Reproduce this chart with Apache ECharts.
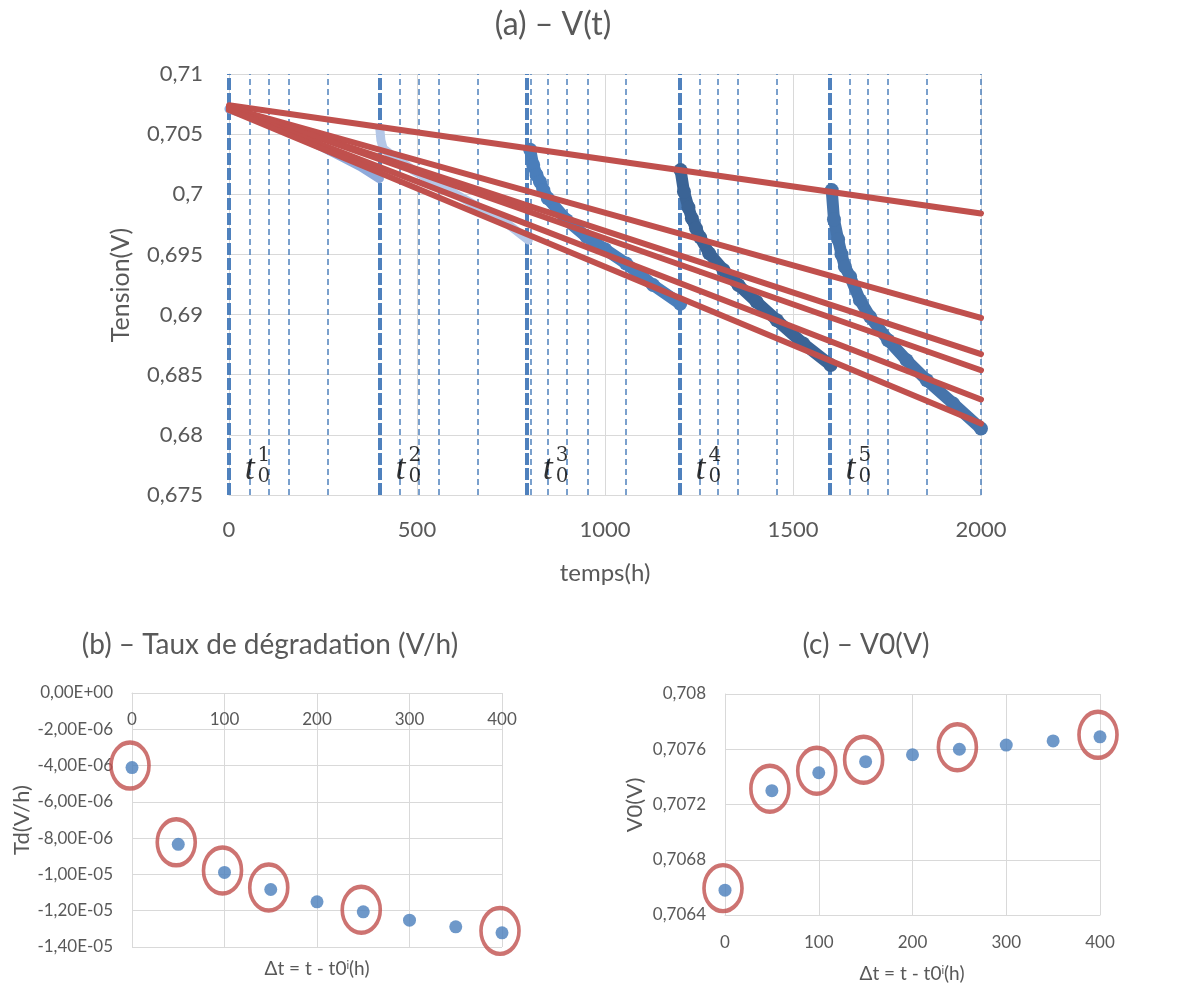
<!DOCTYPE html>
<html><head><meta charset="utf-8">
<script src="https://cdn.jsdelivr.net/npm/echarts@6/dist/echarts.min.js"></script>
<style>html,body{margin:0;padding:0;background:#fff}#c{width:1192px;height:985px}</style>
</head><body><div id="c"></div>
<script>
// ---------------- data ----------------
// (a) measured voltage, five segments [t (h), V]
const seg1 = [[0,0.7071],[50,0.7066],[100,0.7060],[150,0.7053],[200,0.7046],[250,0.7039],[300,0.7031],[350,0.7023],[400,0.7013]];
const seg2 = [[401,0.7055],[404,0.7045],[410,0.7038],[440,0.7031],[490,0.7020],[570,0.7006],[660,0.6990],[730,0.6978],[796,0.6962]];
const seg3 = [[801,0.7037],[809,0.70243],[818,0.7016],[827,0.70104],[836,0.70035],[848,0.69966],[898,0.69785],[951,0.69646],[1000,0.69544],[1056,0.69425],[1128,0.69245],[1200,0.6909]];
const seg4 = [[1201,0.70201],[1210,0.70021],[1222,0.6989],[1231,0.6980],[1242,0.69717],[1253,0.69642],[1277,0.69509],[1315,0.69371],[1355,0.69245],[1403,0.69106],[1457,0.68953],[1527,0.68759],[1600,0.6858]];
const seg5 = [[1603,0.70035],[1609,0.69791],[1620,0.69625],[1629,0.69502],[1638,0.69397],[1652,0.69314],[1678,0.6912],[1705,0.68981],[1753,0.68787],[1802,0.68621],[1856,0.68454],[1926,0.6826],[2000,0.68052]];
// (a) fitted lines: value at t = 0 and at t = 2000
const fitT = [0, 2000];
const fitStart = [0.7074, 0.7072, 0.7072, 0.7073, 0.7071, 0.7070];
const fitEnd   = [0.69841, 0.68973, 0.68671, 0.68537, 0.68294, 0.68094];
// (a) vertical dashed markers
const t0Thick = [0, 401, 793, 1199, 1598];
const dashThin = [55,106,159,262, 455,505,558,662, 803,849,898,953,1056, 1251,1301,1354,1457, 1650,1700,1753,1855,2000];
const t0Names = ['1','2','3','4','5'];
// (b) and (c)
const dtValues = [0,50,100,150,200,250,300,350,400];
const tdValues = [-4.11e-6,-8.34e-6,-9.89e-6,-1.083e-5,-1.151e-5,-1.206e-5,-1.252e-5,-1.289e-5,-1.322e-5];
const v0Values = [0.70658,0.70730,0.70743,0.70751,0.70756,0.70760,0.70763,0.70766,0.70769];
const circled = [0,50,100,150,250,400];

// ---------------- styling ----------------
const FONT = "Lato, 'Open Sans', sans-serif";
const TXT = '#595959';
const GRID = '#d9d9d9';
const RED = '#c0504d';
const DASH = '#4f81bd';
const DOT = '#4a7ebb';

function comma(v, d){ return String(+v.toFixed(d)).replace('.', ','); }
function sci(v){
  let s = (Math.abs(v) < 1e-12 ? 0 : v).toExponential(2);
  let parts = s.split('e');
  let sign = parts[1][0] === '-' ? '-' : '+';
  let d = parts[1].replace(/^[+-]/, '');
  if (d.length < 2) d = '0' + d;
  return parts[0].replace('.', ',') + 'E' + sign + d;
}
function axisCommon(){
  return {
    axisLine:{show:true, onZero:false, lineStyle:{color:GRID, width:1}},
    axisTick:{show:false},
    splitLine:{show:true, lineStyle:{color:GRID, width:1}},
  };
}

const chart = echarts.init(document.getElementById('c'), null, {renderer:'canvas'});

const series = [];
// dashed vertical lines (a)
series.push({
  type:'line', xAxisIndex:0, yAxisIndex:0, data:[], z:1, silent:true,
  markLine:{
    silent:true, symbol:['none','none'], label:{show:false}, animation:false, z:1,
    data: dashThin.map(x => ({xAxis:x, lineStyle:{type:[6,4], width:1.5, color:DASH}}))
      .concat(t0Thick.map(x => ({xAxis:x, lineStyle:{type:[12,3], width:4, color:DASH}})))
  }
});
// measured segments
const segStyles = [
  {d:seg1, c:'#8eaadb', w:9, sym:false},
  {d:seg2, c:'#b4c7e7', w:9, sym:false},
  {d:seg3, c:'#4a7ebb', w:12, sym:true},
  {d:seg4, c:'#3b6496', w:12, sym:true},
  {d:seg5, c:'#4674ab', w:12, sym:true},
];
segStyles.forEach(s => series.push({
  type:'line', xAxisIndex:0, yAxisIndex:0, data:s.d, z:2,
  showSymbol:s.sym, showAllSymbol:true, symbol:'circle', symbolSize:14,
  itemStyle:{color:s.c}, lineStyle:{color:s.c, width:s.w, cap:'round', join:'round'},
  silent:true
}));
// fitted red lines
fitStart.forEach((v, i) => series.push({
  type:'line', xAxisIndex:0, yAxisIndex:0, z:3, silent:true,
  data:[[fitT[0], v],[fitT[1], fitEnd[i]]], showSymbol:false,
  lineStyle:{color:RED, width:6, cap:'round'}
}));
// t0 labels
series.push({
  type:'scatter', xAxisIndex:0, yAxisIndex:0, z:5, symbolSize:0, silent:true,
  data: t0Thick.map(t => [t + 55, 0.67714]),
  label:{show:true, position:'inside', formatter:'t', color:'#000',
    fontFamily:"'Liberation Serif', serif", fontStyle:'italic', fontSize:36}
});
series.push({
  type:'scatter', xAxisIndex:0, yAxisIndex:0, z:5, symbolSize:0, silent:true,
  data: t0Thick.map((t, i) => ({value:[t + 93, 0.67739], name:t0Names[i]})),
  label:{show:true, position:'inside', color:'#000',
    formatter: p => '{s|' + p.name + '}\n{s|0}',
    rich:{s:{fontFamily:"'DejaVu Serif', serif", fontSize:20, lineHeight:21, color:'#000'}}}
});
// (b)
series.push({
  type:'scatter', xAxisIndex:1, yAxisIndex:1, z:3, silent:true,
  data: dtValues.map((d, i) => [d, tdValues[i]]), symbolSize:13, itemStyle:{color:DOT}
});
series.push({
  type:'scatter', xAxisIndex:1, yAxisIndex:1, z:4, silent:true,
  data: circled.map(d => [d, tdValues[dtValues.indexOf(d)]]),
  symbol:'circle', symbolSize:[38,46], symbolOffset:[-2,-2],
  itemStyle:{color:'rgba(0,0,0,0)', borderColor:RED, borderWidth:4}
});
// (c)
series.push({
  type:'scatter', xAxisIndex:2, yAxisIndex:2, z:3, silent:true,
  data: dtValues.map((d, i) => [d, v0Values[i]]), symbolSize:13, itemStyle:{color:DOT}
});
series.push({
  type:'scatter', xAxisIndex:2, yAxisIndex:2, z:4, silent:true,
  data: circled.map(d => [d, v0Values[dtValues.indexOf(d)]]),
  symbol:'circle', symbolSize:[38,46], symbolOffset:[-2,-2],
  itemStyle:{color:'rgba(0,0,0,0)', borderColor:RED, borderWidth:4}
});

function txt(text, x, y, size, rot, rich){
  const el = {type:'text', x:x, y:y, rotation:rot || 0, silent:true,
    style:{text:text, fill:TXT, font: size + 'px ' + FONT, align:'center', verticalAlign:'middle'}};
  if (rich) el.style.rich = rich;
  return el;
}
const dtRich = {
  n:{fontFamily:FONT, fontSize:19, color:TXT},
  s:{fontFamily:FONT, fontSize:11, color:TXT, verticalAlign:'top', padding:[0,0,8,0]}
};
const dtText = '{n|Δt = t - t0}{s|i}{n|(h)}';

const option = {
  animation:false,
  backgroundColor:'#fff',
  textStyle:{fontFamily:FONT},
  grid:[
    {left:229, top:74, width:752, height:421},
    {left:132, top:693, width:370, height:254},
    {left:725, top:694, width:375, height:221}
  ],
  xAxis:[
    Object.assign(axisCommon(), {gridIndex:0, type:'value', min:0, max:2000, interval:500,
      axisLabel:{color:TXT, fontSize:22, margin:24, fontFamily:FONT, formatter:v => String(v)}}),
    Object.assign(axisCommon(), {gridIndex:1, type:'value', min:0, max:400, interval:100, position:'top',
      axisLabel:{color:TXT, fontSize:17, inside:true, margin:18, fontFamily:FONT, formatter:v => String(v)}}),
    Object.assign(axisCommon(), {gridIndex:2, type:'value', min:0, max:400, interval:100,
      axisLabel:{color:TXT, fontSize:17, margin:19, fontFamily:FONT, formatter:v => String(v)}})
  ],
  yAxis:[
    Object.assign(axisCommon(), {gridIndex:0, type:'value', min:0.675, max:0.71, interval:0.005,
      axisLabel:{color:TXT, fontSize:22, margin:26, fontFamily:FONT, formatter:v => comma(v, 3)}}),
    Object.assign(axisCommon(), {gridIndex:1, type:'value', min:-1.4e-5, max:0, interval:2e-6,
      axisLabel:{color:TXT, fontSize:17, margin:19, fontFamily:FONT, formatter:sci}}),
    Object.assign(axisCommon(), {gridIndex:2, type:'value', min:0.7064, max:0.708, interval:0.0004,
      axisLabel:{color:TXT, fontSize:17, margin:19, fontFamily:FONT, formatter:v => comma(v, 4)}})
  ],
  graphic:[
    txt('(a) – V(t)', 553, 25, 32),
    txt('(b) – Taux de dégradation (V/h)', 270, 645, 28),
    txt('(c) – V0(V)', 866, 645, 28),
    txt('Tension(V)', 121, 285, 25, Math.PI/2),
    txt('temps(h)', 605, 573, 24),
    txt('Td(V/h)', 22, 820, 22, Math.PI/2),
    txt('V0(V)', 635, 805, 22, Math.PI/2),
    txt(dtText, 317, 969, 19, 0, dtRich),
    txt(dtText, 912, 974, 19, 0, dtRich)
  ],
  series: series
};
chart.setOption(option);
</script>
</body></html>
